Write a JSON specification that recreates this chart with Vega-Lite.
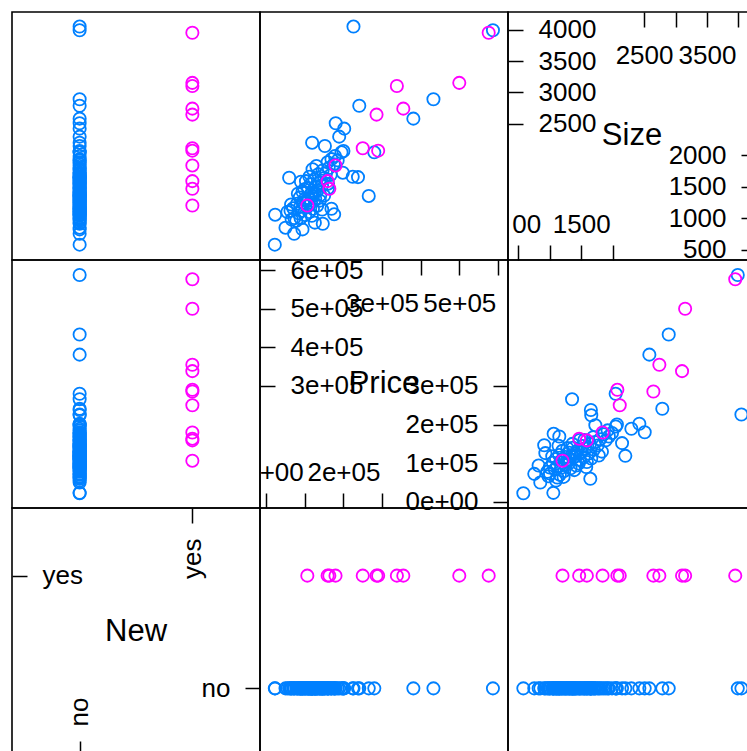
{
  "$schema": "https://vega.github.io/schema/vega-lite/v6.json",
  "padding": {"left": 10, "top": 10, "right": 0, "bottom": 0},
  "background": "white",
  "config": {
    "view": {"stroke": "black", "strokeWidth": 1.6},
    "font": "Liberation Sans",
    "axis": {"domain": false, "grid": false, "ticks": true, "tickSize": -15, "tickWidth": 1.5, "tickColor": "black", "labelPadding": -15, "labelFontSize": 26, "labelFont": "Liberation Sans", "labelColor": "black", "labelFlush": false, "labelOverlap": false, "labelBound": false},
    "point": {"shape": "circle", "filled": false, "size": 150, "strokeWidth": 1.8, "opacity": 1}
  },
  "datasets": {
    "houses": [
      {"Size": 3990, "Price": 587000, "New": "no"},
      {"Size": 4048, "Price": 226000, "New": "no"},
      {"Size": 2892, "Price": 433000, "New": "no"},
      {"Size": 2584, "Price": 381000, "New": "no"},
      {"Size": 2790, "Price": 241000, "New": "no"},
      {"Size": 2048, "Price": 279900, "New": "no"},
      {"Size": 1355, "Price": 265500, "New": "no"},
      {"Size": 1654, "Price": 237700, "New": "no"},
      {"Size": 2068, "Price": 200000, "New": "no"},
      {"Size": 2425, "Price": 202000, "New": "no"},
      {"Size": 2510, "Price": 180000, "New": "no"},
      {"Size": 2298, "Price": 189000, "New": "no"},
      {"Size": 2150, "Price": 152000, "New": "no"},
      {"Size": 2202, "Price": 119000, "New": "no"},
      {"Size": 1645, "Price": 59500, "New": "no"},
      {"Size": 580, "Price": 22300, "New": "no"},
      {"Size": 1057, "Price": 23200, "New": "no"},
      {"Size": 850, "Price": 50000, "New": "no"},
      {"Size": 754, "Price": 72400, "New": "no"},
      {"Size": 823, "Price": 94000, "New": "no"},
      {"Size": 912, "Price": 146500, "New": "no"},
      {"Size": 1062, "Price": 176000, "New": "no"},
      {"Size": 1152, "Price": 169000, "New": "no"},
      {"Size": 930, "Price": 126000, "New": "no"},
      {"Size": 1099, "Price": 55000, "New": "no"},
      {"Size": 1220, "Price": 64500, "New": "no"},
      {"Size": 1725, "Price": 198400, "New": "no"},
      {"Size": 1477, "Price": 159900, "New": "no"},
      {"Size": 1160, "Price": 70000, "New": "no"},
      {"Size": 1690, "Price": 167000, "New": "no"},
      {"Size": 1380, "Price": 114600, "New": "no"},
      {"Size": 1590, "Price": 103000, "New": "no"},
      {"Size": 1050, "Price": 101000, "New": "no"},
      {"Size": 1410, "Price": 126000, "New": "no"},
      {"Size": 1004, "Price": 73000, "New": "no"},
      {"Size": 1520, "Price": 144500, "New": "no"},
      {"Size": 1890, "Price": 159000, "New": "no"},
      {"Size": 1100, "Price": 111000, "New": "no"},
      {"Size": 1990, "Price": 178000, "New": "no"},
      {"Size": 1940, "Price": 169000, "New": "no"},
      {"Size": 2050, "Price": 195000, "New": "no"},
      {"Size": 1660, "Price": 224000, "New": "no"},
      {"Size": 1180, "Price": 88000, "New": "no"},
      {"Size": 1250, "Price": 95000, "New": "no"},
      {"Size": 1300, "Price": 99000, "New": "no"},
      {"Size": 1320, "Price": 110000, "New": "no"},
      {"Size": 1350, "Price": 120000, "New": "no"},
      {"Size": 1270, "Price": 105000, "New": "no"},
      {"Size": 1400, "Price": 118000, "New": "no"},
      {"Size": 1440, "Price": 132000, "New": "no"},
      {"Size": 1460, "Price": 99000, "New": "no"},
      {"Size": 1500, "Price": 128000, "New": "no"},
      {"Size": 1540, "Price": 115000, "New": "no"},
      {"Size": 1560, "Price": 138000, "New": "no"},
      {"Size": 1600, "Price": 142000, "New": "no"},
      {"Size": 1620, "Price": 125000, "New": "no"},
      {"Size": 1640, "Price": 150000, "New": "no"},
      {"Size": 1700, "Price": 135000, "New": "no"},
      {"Size": 1720, "Price": 155000, "New": "no"},
      {"Size": 1760, "Price": 146000, "New": "no"},
      {"Size": 1800, "Price": 162000, "New": "no"},
      {"Size": 1830, "Price": 130000, "New": "no"},
      {"Size": 1860, "Price": 175000, "New": "no"},
      {"Size": 1920, "Price": 185000, "New": "no"},
      {"Size": 1150, "Price": 121000, "New": "no"},
      {"Size": 1200, "Price": 132000, "New": "no"},
      {"Size": 1230, "Price": 80000, "New": "no"},
      {"Size": 1280, "Price": 139000, "New": "no"},
      {"Size": 1330, "Price": 87000, "New": "no"},
      {"Size": 1120, "Price": 92000, "New": "no"},
      {"Size": 1080, "Price": 84000, "New": "no"},
      {"Size": 1000, "Price": 89000, "New": "no"},
      {"Size": 960, "Price": 78000, "New": "no"},
      {"Size": 1040, "Price": 118000, "New": "no"},
      {"Size": 1140, "Price": 145000, "New": "no"},
      {"Size": 1190, "Price": 108000, "New": "no"},
      {"Size": 1360, "Price": 150000, "New": "no"},
      {"Size": 1420, "Price": 94000, "New": "no"},
      {"Size": 1480, "Price": 108000, "New": "no"},
      {"Size": 1580, "Price": 90000, "New": "no"},
      {"Size": 1660, "Price": 112000, "New": "no"},
      {"Size": 1780, "Price": 120000, "New": "no"},
      {"Size": 1250, "Price": 116000, "New": "no"},
      {"Size": 1310, "Price": 127000, "New": "no"},
      {"Size": 1370, "Price": 140000, "New": "no"},
      {"Size": 1120, "Price": 63000, "New": "no"},
      {"Size": 980, "Price": 66000, "New": "no"},
      {"Size": 1390, "Price": 82000, "New": "no"},
      {"Size": 1550, "Price": 160000, "New": "no"},
      {"Size": 3950, "Price": 576000, "New": "yes"},
      {"Size": 3153, "Price": 499900, "New": "yes"},
      {"Size": 2743, "Price": 355000, "New": "yes"},
      {"Size": 3104, "Price": 338300, "New": "yes"},
      {"Size": 2075, "Price": 289900, "New": "yes"},
      {"Size": 2648, "Price": 285700, "New": "yes"},
      {"Size": 2113, "Price": 250000, "New": "yes"},
      {"Size": 1840, "Price": 179500, "New": "yes"},
      {"Size": 1468, "Price": 163500, "New": "yes"},
      {"Size": 1590, "Price": 159000, "New": "yes"},
      {"Size": 1203, "Price": 106500, "New": "yes"}
    ]
  },
  "columns": 3,
  "spacing": 0,
  "bounds": "flush",
  "concat": [
    {
      "width": 248, "height": 248,
      "data": {"name": "houses"},
      "mark": "point",
      "encoding": {
        "x": {"field": "New", "type": "nominal", "scale": {"type": "point", "domain": ["no", "yes"], "padding": 0.6}, "axis": null},
        "y": {"field": "Size", "type": "quantitative", "scale": {"domain": [336, 4280], "nice": false, "zero": false}, "axis": null},
        "color": {"field": "New", "type": "nominal", "scale": {"domain": ["no", "yes"], "range": ["#0080ff", "#ff00ff"]}, "legend": null}
      }
    },
    {
      "width": 248, "height": 248,
      "data": {"name": "houses"},
      "mark": "point",
      "encoding": {
        "x": {"field": "Price", "type": "quantitative", "scale": {"domain": [-16000, 626000], "nice": false, "zero": false}, "axis": null},
        "y": {"field": "Size", "type": "quantitative", "scale": {"domain": [336, 4280], "nice": false, "zero": false}, "axis": null},
        "color": {"field": "New", "type": "nominal", "scale": {"domain": ["no", "yes"], "range": ["#0080ff", "#ff00ff"]}, "legend": null}
      }
    },
    {
      "width": 248, "height": 248,
      "resolve": {"axis": {"x": "independent", "y": "independent"}},
      "layer": [
        {
          "data": {"values": [{"label": "Size"}]},
          "mark": {"type": "text", "fontSize": 31, "font": "Liberation Sans", "color": "black"},
          "encoding": {"text": {"field": "label"}}
        },
        {
          "data": {"name": "houses"},
          "mark": {"type": "point", "opacity": 0},
          "encoding": {
            "x": {"field": "Size", "type": "quantitative", "scale": {"domain": [336, 4280], "nice": false, "zero": false},
                  "axis": {"orient": "top", "title": null, "values": [2500, 3000, 3500, 4000], "format": "d", "labelExpr": "datum.value == 2500 || datum.value == 3500 ? datum.label : ''", "labelAlign": "center", "labelBaseline": "top", "labelAngle": 0}},
            "y": {"field": "Size", "type": "quantitative", "scale": {"domain": [336, 4280], "nice": false, "zero": false},
                  "axis": {"orient": "left", "title": null, "values": [2500, 3000, 3500, 4000], "format": "d", "labelAlign": "left", "labelBaseline": "middle", "labelAngle": 0}}
          }
        },
        {
          "data": {"name": "houses"},
          "mark": {"type": "point", "opacity": 0},
          "encoding": {
            "x": {"field": "Size", "type": "quantitative", "scale": {"domain": [336, 4280], "nice": false, "zero": false},
                  "axis": {"orient": "bottom", "title": null, "values": [500, 1000, 1500, 2000], "format": "d", "labelExpr": "datum.value == 500 ? '00' : (datum.value == 1500 ? datum.label : '')", "labelOffset": {"condition": {"test": "datum.value == 500", "value": 8}, "value": 0}, "labelAlign": "center", "labelBaseline": "alphabetic", "labelPadding": -13, "labelAngle": 0}},
            "y": {"field": "Size", "type": "quantitative", "scale": {"domain": [336, 4280], "nice": false, "zero": false},
                  "axis": {"orient": "right", "title": null, "values": [500, 1000, 1500, 2000], "format": "d", "labelAlign": "right", "labelBaseline": "middle", "labelAngle": 0}}
          }
        }
      ]
    },
    {
      "width": 248, "height": 248,
      "data": {"name": "houses"},
      "mark": "point",
      "encoding": {
        "x": {"field": "New", "type": "nominal", "scale": {"type": "point", "domain": ["no", "yes"], "padding": 0.6}, "axis": null},
        "y": {"field": "Price", "type": "quantitative", "scale": {"domain": [-16000, 626000], "nice": false, "zero": false}, "axis": null},
        "color": {"field": "New", "type": "nominal", "scale": {"domain": ["no", "yes"], "range": ["#0080ff", "#ff00ff"]}, "legend": null}
      }
    },
    {
      "width": 248, "height": 248,
      "resolve": {"axis": {"x": "independent", "y": "independent"}},
      "layer": [
        {
          "data": {"values": [{"label": "Price"}]},
          "mark": {"type": "text", "fontSize": 31, "font": "Liberation Sans", "color": "black"},
          "encoding": {"text": {"field": "label"}}
        },
        {
          "data": {"name": "houses"},
          "mark": {"type": "point", "opacity": 0},
          "encoding": {
            "x": {"field": "Price", "type": "quantitative", "scale": {"domain": [-16000, 626000], "nice": false, "zero": false},
                  "axis": {"orient": "top", "title": null, "values": [300000, 400000, 500000, 600000], "labelExpr": "datum.value == 300000 || datum.value == 500000 ? (datum.value / 100000) + 'e+05' : ''", "labelAlign": "center", "labelBaseline": "top", "labelAngle": 0}},
            "y": {"field": "Price", "type": "quantitative", "scale": {"domain": [-16000, 626000], "nice": false, "zero": false},
                  "axis": {"orient": "left", "title": null, "values": [300000, 400000, 500000, 600000], "labelExpr": "(datum.value / 100000) + 'e+05'", "labelAlign": "left", "labelBaseline": "middle", "labelAngle": 0}}
          }
        },
        {
          "data": {"name": "houses"},
          "mark": {"type": "point", "opacity": 0},
          "encoding": {
            "x": {"field": "Price", "type": "quantitative", "scale": {"domain": [-16000, 626000], "nice": false, "zero": false},
                  "axis": {"orient": "bottom", "title": null, "values": [0, 100000, 200000, 300000], "labelExpr": "datum.value == 0 ? '+00' : (datum.value == 200000 ? '2e+05' : '')", "labelOffset": {"condition": {"test": "datum.value == 0", "value": 15}, "value": 0}, "labelAlign": "center", "labelBaseline": "alphabetic", "labelPadding": -13, "labelAngle": 0}},
            "y": {"field": "Price", "type": "quantitative", "scale": {"domain": [-16000, 626000], "nice": false, "zero": false},
                  "axis": {"orient": "right", "title": null, "values": [0, 100000, 200000, 300000], "labelExpr": "datum.value == 0 ? '0e+00' : (datum.value / 100000) + 'e+05'", "labelAlign": "right", "labelBaseline": "middle", "labelAngle": 0}}
          }
        }
      ]
    },
    {
      "width": 248, "height": 248,
      "data": {"name": "houses"},
      "mark": "point",
      "encoding": {
        "x": {"field": "Size", "type": "quantitative", "scale": {"domain": [336, 4280], "nice": false, "zero": false}, "axis": null},
        "y": {"field": "Price", "type": "quantitative", "scale": {"domain": [-16000, 626000], "nice": false, "zero": false}, "axis": null},
        "color": {"field": "New", "type": "nominal", "scale": {"domain": ["no", "yes"], "range": ["#0080ff", "#ff00ff"]}, "legend": null}
      }
    },
    {
      "width": 248, "height": 248,
      "resolve": {"axis": {"x": "independent", "y": "independent"}},
      "layer": [
        {
          "data": {"values": [{"label": "New"}]},
          "mark": {"type": "text", "fontSize": 31, "font": "Liberation Sans", "color": "black"},
          "encoding": {"text": {"field": "label"}}
        },
        {
          "data": {"name": "houses"},
          "mark": {"type": "point", "opacity": 0},
          "encoding": {
            "x": {"field": "New", "type": "nominal", "scale": {"type": "point", "domain": ["no", "yes"], "padding": 0.6},
                  "axis": {"orient": "top", "title": null, "values": ["yes"], "labelAngle": 270, "labelAlign": "right", "labelBaseline": "middle"}},
            "y": {"field": "New", "type": "nominal", "scale": {"type": "point", "domain": ["yes", "no"], "padding": 0.6},
                  "axis": {"orient": "left", "title": null, "values": ["yes"], "labelAngle": 0, "labelAlign": "left", "labelBaseline": "middle"}}
          }
        },
        {
          "data": {"name": "houses"},
          "mark": {"type": "point", "opacity": 0},
          "encoding": {
            "x": {"field": "New", "type": "nominal", "scale": {"type": "point", "domain": ["no", "yes"], "padding": 0.6},
                  "axis": {"orient": "bottom", "title": null, "values": ["no"], "labelAngle": 270, "labelAlign": "left", "labelBaseline": "middle"}},
            "y": {"field": "New", "type": "nominal", "scale": {"type": "point", "domain": ["yes", "no"], "padding": 0.6},
                  "axis": {"orient": "right", "title": null, "values": ["no"], "labelAngle": 0, "labelAlign": "right", "labelBaseline": "middle"}}
          }
        }
      ]
    },
    {
      "width": 248, "height": 248,
      "data": {"name": "houses"},
      "mark": "point",
      "encoding": {
        "x": {"field": "Price", "type": "quantitative", "scale": {"domain": [-16000, 626000], "nice": false, "zero": false}, "axis": null},
        "y": {"field": "New", "type": "nominal", "scale": {"type": "point", "domain": ["yes", "no"], "padding": 0.6}, "axis": null},
        "color": {"field": "New", "type": "nominal", "scale": {"domain": ["no", "yes"], "range": ["#0080ff", "#ff00ff"]}, "legend": null}
      }
    },
    {
      "width": 248, "height": 248,
      "data": {"name": "houses"},
      "mark": "point",
      "encoding": {
        "x": {"field": "Size", "type": "quantitative", "scale": {"domain": [336, 4280], "nice": false, "zero": false}, "axis": null},
        "y": {"field": "New", "type": "nominal", "scale": {"type": "point", "domain": ["yes", "no"], "padding": 0.6}, "axis": null},
        "color": {"field": "New", "type": "nominal", "scale": {"domain": ["no", "yes"], "range": ["#0080ff", "#ff00ff"]}, "legend": null}
      }
    }
  ]
}
